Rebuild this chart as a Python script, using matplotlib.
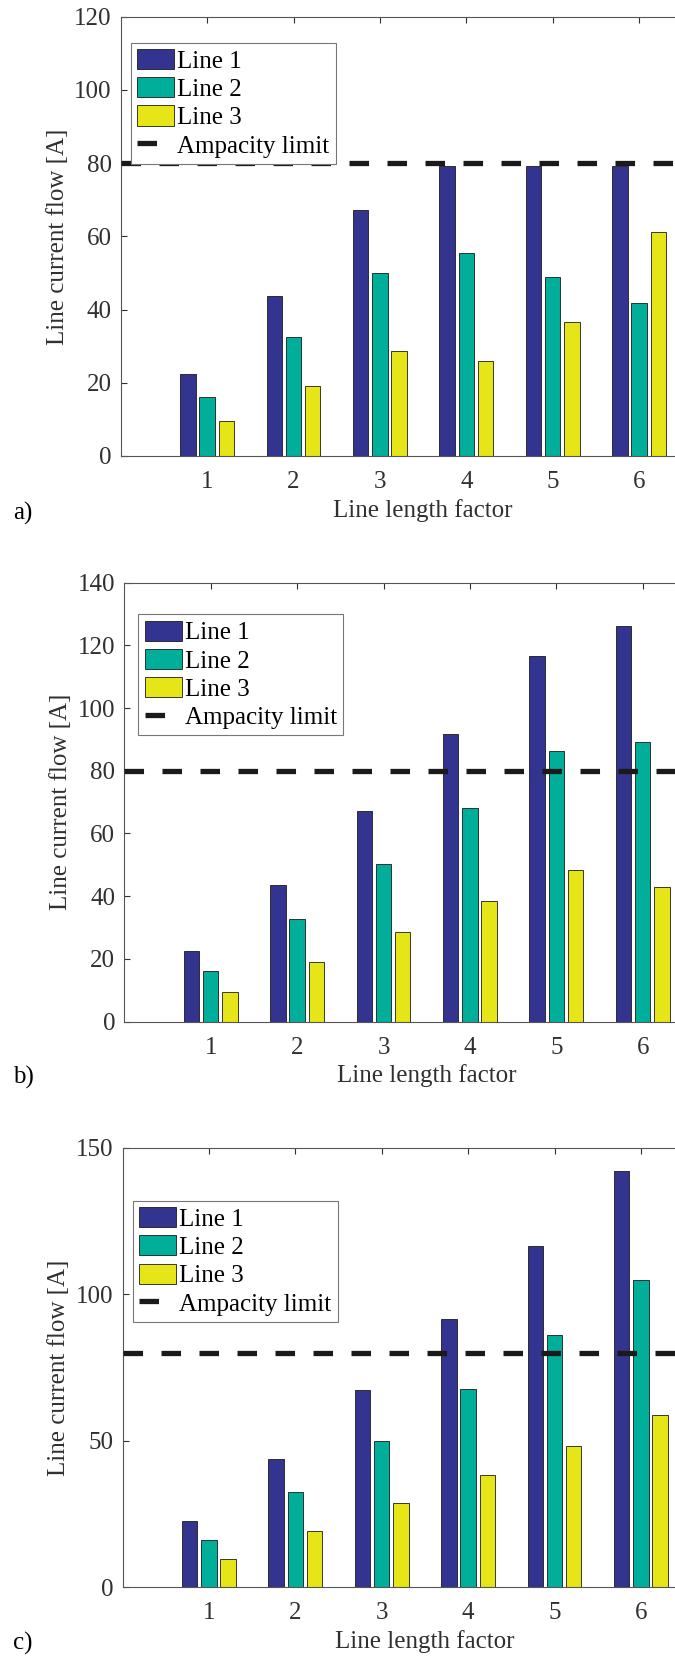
import numpy as np
import matplotlib
matplotlib.use('Agg')
import matplotlib.pyplot as plt

plt.rcParams['font.family'] = ['Liberation Serif', 'DejaVu Serif']

# Dane
czynnik = [1, 2, 3, 4, 5, 6]
etykiety_serii = ['Line 1', 'Line 2', 'Line 3']
limit_pradu = 80

a_line1 = [22.5, 43.6, 67.2, 79.3, 79.3, 79.3]
a_line2 = [16.2, 32.6, 50.0, 55.4, 48.8, 41.8]
a_line3 = [9.5, 19.0, 28.6, 25.9, 36.7, 61.3]

b_line1 = [22.5, 43.7, 67.3, 91.8, 116.7, 126.3]
b_line2 = [16.2, 32.6, 50.1, 68.0, 86.2, 89.2]
b_line3 = [9.5, 19.0, 28.6, 38.4, 48.4, 43.0]

c_line1 = [22.5, 43.6, 67.2, 91.6, 116.5, 142.2]
c_line2 = [16.2, 32.6, 50.0, 67.7, 86.1, 104.9]
c_line3 = [9.5, 19.0, 28.6, 38.1, 48.2, 58.6]

a_yticks = [0, 20, 40, 60, 80, 100, 120]
b_yticks = [0, 20, 40, 60, 80, 100, 120, 140]
c_yticks = [0, 50, 100, 150]

kolory = ['#32348f', '#00ae9a', '#e5e517']
szary = '#303030'

W, H = 675, 1657
fig = plt.figure(figsize=(W / 100, H / 100), dpi=100)

# pozycje osi w px, legenda, etykieta panelu
panele = [
    dict(dane=[a_line1, a_line2, a_line3], yt=a_yticks, left=120.7, top=16.7, bottom=456.0,
         leg=(130.7, 42.7), lit='a)', lit_y=520.0),
    dict(dane=[b_line1, b_line2, b_line3], yt=b_yticks, left=124.3, top=582.7, bottom=1021.5,
         leg=(138.3, 614.3), lit='b)', lit_y=1084.0),
    dict(dane=[c_line1, c_line2, c_line3], yt=c_yticks, left=122.5, top=1147.7, bottom=1587.0,
         leg=(132.7, 1200.7), lit='c)', lit_y=1650.0),
]

krok = 86.4  # px na jednostke osi x
x = np.array(czynnik)
odstep = 0.2222
szer = 0.18

for p in panele:
    ax = fig.add_axes([p['left'] / W, 1 - p['bottom'] / H,
                       7 * krok / W, (p['bottom'] - p['top']) / H])
    uchwyty = []
    for k, (seria, kol) in enumerate(zip(p['dane'], kolory)):
        b = ax.bar(x + (k - 1) * odstep, seria, width=szer, color=kol,
                   edgecolor='#1a1a1a', linewidth=0.6, label=etykiety_serii[k], zorder=2)
        uchwyty.append(b)
    linia = ax.axhline(limit_pradu, color='#1a1a1a', linewidth=3.8,
                       linestyle=(0, (3.7, 3.5)), label='Ampacity limit', zorder=3)
    uchwyty.append(linia)

    ax.set_xlim(0, 7)
    ax.set_ylim(p['yt'][0], p['yt'][-1])
    ax.set_xticks(czynnik)
    ax.set_yticks(p['yt'])
    ax.tick_params(direction='in', length=4, width=0.8, top=True, right=True,
                   labelsize=18, colors=szary)
    ax.tick_params(axis='x', pad=11)
    ax.tick_params(axis='y', pad=6.5)
    for s in ax.spines.values():
        s.set_color('#555555')
        s.set_linewidth(0.8)
    ax.set_xlabel('Line length factor', fontsize=18, color=szary, labelpad=4)
    ax.set_ylabel('Line current flow [A]', fontsize=18, color=szary, labelpad=4)

    leg = ax.legend(handles=uchwyty, loc='upper left',
                    bbox_to_anchor=(p['leg'][0] / W, 1 - p['leg'][1] / H),
                    bbox_transform=fig.transFigure, borderaxespad=0, fancybox=False,
                    framealpha=1, edgecolor='#777777', handlelength=1.5, handleheight=0.87,
                    handletextpad=0.12, labelspacing=0.18, borderpad=0.25, fontsize=18)
    leg.get_frame().set_linewidth(0.8)

    fig.text(13 / W, 1 - p['lit_y'] / H, p['lit'], fontsize=18, color='black',
             ha='left', va='baseline')

fig.savefig('out.png', dpi=100)
